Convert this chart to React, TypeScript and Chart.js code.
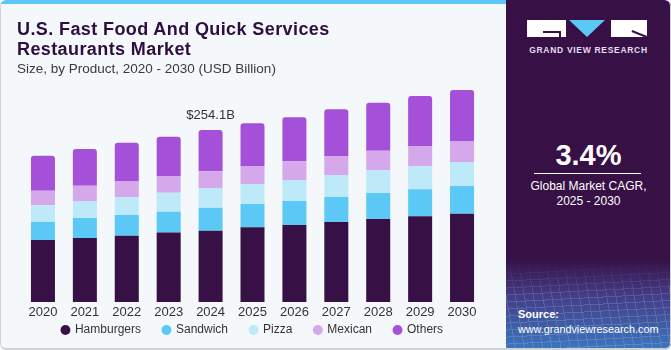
import React, { useEffect, useRef } from "react";
import { Chart, registerables } from "chart.js";

Chart.register(...registerables);

const YEARS = ["2020", "2021", "2022", "2023", "2024", "2025", "2026", "2027", "2028", "2029", "2030"];
const HAMBURGERS = [91.6, 94.5, 98.0, 102.6, 105.3, 110.4, 113.7, 118.2, 122.6, 126.6, 130.4];
const SANDWICH = [26.6, 29.5, 30.6, 30.8, 34.0, 34.4, 35.5, 36.9, 38.4, 39.9, 40.9];
const PIZZA = [24.7, 25.1, 26.6, 28.1, 29.1, 29.5, 31.0, 32.5, 33.5, 34.0, 35.5];
const MEXICAN = [21.6, 22.6, 23.6, 24.7, 24.7, 26.6, 27.6, 28.1, 29.0, 30.0, 31.0];
const OTHERS = [51.7, 54.2, 56.6, 58.1, 61.0, 63.1, 65.0, 69.0, 70.9, 73.9, 75.3];

const SERIES_NAMES = ["Hamburgers", "Sandwich", "Pizza", "Mexican", "Others"];
const SERIES_VALUES = [HAMBURGERS, SANDWICH, PIZZA, MEXICAN, OTHERS];
const SERIES_COLORS = ["#371046", "#5BC8F5", "#BDE9F9", "#D5A8EC", "#A550D8"];

const ANNOTATED_YEAR = "2024";
const ANNOTATION_LABEL = "$254.1B";

const FONT = '"Liberation Sans", Arial, sans-serif';

const totalLabelPlugin = {
  id: "totalLabel",
  afterDatasetsDraw(chart: any) {
    const idx = YEARS.indexOf(ANNOTATED_YEAR);
    const total = SERIES_VALUES.reduce((s, arr) => s + arr[idx], 0);
    const x = chart.scales.x.getPixelForValue(idx);
    const y = chart.scales.y.getPixelForValue(total);
    const ctx = chart.ctx;
    ctx.save();
    ctx.font = `13px ${FONT}`;
    ctx.fillStyle = "#333333";
    ctx.textAlign = "center";
    ctx.textBaseline = "middle";
    ctx.fillText(ANNOTATION_LABEL, x, y - 15);
    ctx.restore();
  },
};

// Pull the legend up right under the plot area (its own padding also sets item spacing)
const legendShiftPlugin = {
  id: "legendShift",
  afterLayout(chart: any) {
    const lg = chart.legend;
    if (!lg) return;
    const dy = lg.top - chart.chartArea.bottom;
    lg.top -= dy;
    lg.bottom -= dy;
  },
};

function BarChart() {
  const ref = useRef<HTMLCanvasElement | null>(null);
  useEffect(() => {
    if (!ref.current) return;
    const chart = new Chart(ref.current, {
      type: "bar",
      data: {
        labels: YEARS,
        datasets: SERIES_NAMES.map((name, i) => ({
          label: name,
          data: SERIES_VALUES[i],
          backgroundColor: SERIES_COLORS[i],
          borderWidth: 0,
          borderRadius: i === SERIES_NAMES.length - 1 ? { topLeft: 3, topRight: 3, bottomLeft: 0, bottomRight: 0 } : 0,
          borderSkipped: false,
          barPercentage: 0.573,
          categoryPercentage: 1,
        })),
      },
      options: {
        responsive: false,
        animation: false,
        devicePixelRatio: 1,
        layout: { padding: { top: 71.85, left: 22, right: 22, bottom: 0 } },
        scales: {
          x: {
            stacked: true,
            grid: { display: false, drawTicks: false },
            border: { display: false },
            ticks: { color: "#333333", font: { family: FONT, size: 13 }, padding: 3, maxRotation: 0 },
            afterFit: (s: any) => {
              s.height = 20;
            },
          },
          y: {
            stacked: true,
            display: false,
            min: 0,
            max: 340,
          },
        },
        plugins: {
          legend: {
            display: true,
            position: "bottom",
            labels: {
              usePointStyle: true,
              pointStyle: "circle",
              boxWidth: 7,
              boxHeight: 7,
              padding: 22,
              color: "#333333",
              font: { family: FONT, size: 12 },
            },
          },
          tooltip: { enabled: false },
        },
      },
      plugins: [totalLabelPlugin, legendShiftPlugin],
    } as any);
    return () => chart.destroy();
  }, []);
  return (
    <canvas
      ref={ref}
      width={505}
      height={366}
      style={{ position: "absolute", left: 0, top: 0, width: 505, height: 366 }}
    />
  );
}

export default function App() {
  const panelLeft = 506;
  return (
    <div
      style={{
        position: "absolute",
        left: 0,
        top: 0,
        width: 671,
        height: 350,
        overflow: "hidden",
        background: "#F4F8FB",
        fontFamily: FONT,
        borderRadius: 6,
      }}
    >
      <div style={{ position: "absolute", left: 0, top: 0, width: panelLeft, height: 4, background: "#5BC8F5" }} />
      <BarChart />
      <div
        style={{
          position: "absolute",
          left: 17,
          top: 19,
          fontSize: 18,
          lineHeight: "20px",
          fontWeight: 700,
          color: "#2D0E3E",
          letterSpacing: 0.4,
          whiteSpace: "nowrap",
        }}
      >
        U.S. Fast Food And Quick Services
        <br />
        Restaurants Market
      </div>
      <div
        style={{
          position: "absolute",
          left: 17,
          top: 62,
          fontSize: 13.5,
          lineHeight: "13.5px",
          color: "#3a3a3a",
          whiteSpace: "nowrap",
        }}
      >
        Size, by Product, 2020 - 2030 (USD Billion)
      </div>

      {/* Right panel */}
      <div
        style={{
          position: "absolute",
          left: panelLeft,
          top: 0,
          width: 671 - panelLeft,
          height: 350,
          background: "linear-gradient(180deg, #371046 0%, #371046 74%, #433a85 84%, #3b78c0 100%)",
          borderTopRightRadius: 6,
          borderBottomRightRadius: 6,
          overflow: "hidden",
          color: "#ffffff",
        }}
      >
        <div
          style={{
            position: "absolute",
            left: 0,
            top: 262,
            width: "100%",
            height: 88,
            opacity: 0.16,
            backgroundImage:
              "repeating-linear-gradient(80deg, rgba(255,255,255,0.9) 0 1px, transparent 1px 9px), repeating-linear-gradient(-3deg, rgba(255,255,255,0.9) 0 1px, transparent 1px 7px)",
            WebkitMaskImage: "linear-gradient(180deg, transparent 0%, #000 40%)",
            maskImage: "linear-gradient(180deg, transparent 0%, #000 40%)",
          }}
        />
        {/* logo */}
        <div style={{ position: "absolute", left: 21, top: 20, width: 39, height: 17, background: "#ffffff" }} />
        <div style={{ position: "absolute", left: 37, top: 31, width: 17, height: 1.5, background: "#371046" }} />
        <div style={{ position: "absolute", left: 53, top: 31, width: 1.5, height: 6, background: "#371046" }} />
        <div
          style={{
            position: "absolute",
            left: 63,
            top: 20,
            width: 0,
            height: 0,
            borderLeft: "18.5px solid transparent",
            borderRight: "18.5px solid transparent",
            borderTop: "17px solid #5BC8F5",
          }}
        />
        <div style={{ position: "absolute", left: 105, top: 20, width: 36, height: 17, background: "#ffffff" }} />
        <div
          style={{
            position: "absolute",
            left: 126,
            top: 29.5,
            width: 16,
            height: 1.5,
            background: "#371046",
            transform: "rotate(22deg)",
            transformOrigin: "left center",
          }}
        />
        <div
          style={{
            position: "absolute",
            left: 0,
            width: "100%",
            top: 46,
            textAlign: "center",
            fontSize: 8.5,
            lineHeight: "9px",
            fontWeight: 700,
            letterSpacing: 0.7,
            color: "#e6dff0",
            whiteSpace: "nowrap",
          }}
        >
          GRAND VIEW RESEARCH
        </div>
        <div
          style={{
            position: "absolute",
            left: 0,
            width: "100%",
            top: 141,
            textAlign: "center",
            fontSize: 29,
            lineHeight: "29px",
            fontWeight: 700,
          }}
        >
          3.4%
        </div>
        <div style={{ position: "absolute", left: 28, top: 173, width: 107, height: 1, background: "#ffffff" }} />
        <div
          style={{
            position: "absolute",
            left: 0,
            width: "100%",
            top: 179,
            textAlign: "center",
            fontSize: 12,
            lineHeight: "15px",
            whiteSpace: "nowrap",
          }}
        >
          Global Market CAGR,
          <br />
          2025 - 2030
        </div>
        <div
          style={{
            position: "absolute",
            left: 12,
            top: 309,
            fontSize: 11,
            lineHeight: "11px",
            fontWeight: 700,
          }}
        >
          Source:
        </div>
        <div
          style={{
            position: "absolute",
            left: 12,
            top: 324,
            fontSize: 10.8,
            lineHeight: "11px",
            whiteSpace: "nowrap",
          }}
        >
          www.grandviewresearch.com
        </div>
      </div>
      <div
        style={{
          position: "absolute",
          left: 0,
          top: 0,
          width: 671,
          height: 350,
          boxSizing: "border-box",
          border: "1px solid #cfd3d6",
          borderBottomWidth: 2,
          borderTop: "none",
          borderRadius: 6,
          pointerEvents: "none",
        }}
      />
    </div>
  );
}
